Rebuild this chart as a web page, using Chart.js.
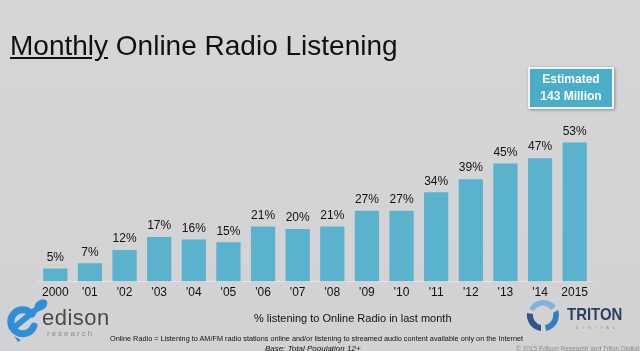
<!DOCTYPE html>
<html>
<head>
<meta charset="utf-8">
<script src="https://cdn.jsdelivr.net/npm/chart.js@4"></script>
<style>
    html, body { margin: 0; padding: 0; }
    body {
        width: 640px; height: 351px; overflow: hidden; position: relative;
        background: linear-gradient(#d6d6d8, #d2d2d4);
        font-family: 'Liberation Sans', Arial, sans-serif;
    }
    #chart { position: absolute; left: 0; top: 0; }
    .abs { position: absolute; white-space: nowrap; }
    .title { left: 10px; top: 30px; font-size: 28px; color: #111; }
    .callout {
        left: 528px; top: 67px; width: 82px; height: 36px;
        background: #4aaec8; border: 2px solid #f2f2f2;
        box-shadow: 1px 1px 3px rgba(0,0,0,0.35);
        color: #fff; font-weight: bold; font-size: 12px; line-height: 17px;
        text-align: center; padding-top: 2px;
    }
    .axis-title { left: 254px; top: 312px; font-size: 11px; color: #111; }
    .note { left: 110px; top: 334px; font-size: 7.3px; color: #111; }
    .base { left: 265px; top: 344px; font-size: 8px; font-style: italic; color: #111; }
    .copy { right: 1px; top: 345px; font-size: 6.5px; color: #8a8a8a; }
    .edison { left: 42px; top: 307px; font-size: 22px; line-height: 1; color: #4a4a4a; letter-spacing: 0.5px; }
    .research { left: 47px; top: 330px; font-size: 8px; line-height: 1; color: #8c8c8c; letter-spacing: 2px; }
    .triton { left: 567px; top: 306px; font-size: 17px; line-height: 1; font-weight: bold; color: #2b3f63; transform: scaleX(0.88); transform-origin: left; }
    .digital { left: 576px; top: 326px; font-size: 4px; line-height: 1; color: #8c8c8c; letter-spacing: 4px; }
</style>
</head>
<body>
<canvas id="chart" width="640" height="351"></canvas>

<div class="abs title"><u>Monthly</u> Online Radio Listening</div>
<div class="abs callout">Estimated<br>143 Million</div>

<svg class="abs" style="left:4px;top:296px" width="46" height="48" viewBox="0 0 46 48">
    <path d="M30 30 A12 12 0 1 1 28 18" fill="none" stroke="#2f8fd6" stroke-width="7" stroke-linecap="round"/>
    <path d="M12 30 L34 12" fill="none" stroke="#2f8fd6" stroke-width="6" stroke-linecap="round"/>
    <ellipse cx="37" cy="9" rx="7" ry="5" transform="rotate(-35 37 9)" fill="#2f8fd6"/>
    <path d="M10 40 L14 46 L17 44 Z" fill="#2f8fd6"/>
</svg>
<div class="abs edison">edison</div>
<div class="abs research">research</div>

<svg class="abs" style="left:526px;top:298px" width="34" height="34" viewBox="0 0 34 34">
    <path d="M3 11 A16 16 0 0 1 30 8 L25 12 A10 10 0 0 0 8 13 Z" fill="#7fb6d8"/>
    <path d="M32 12 A16 16 0 0 1 20 33 L19 27 A10 10 0 0 0 27 15 Z" fill="#2f7fc0"/>
    <path d="M15 33 A16 16 0 0 1 1 15 L7 16 A10 10 0 0 0 15 27 Z" fill="#34558c"/>
</svg>
<div class="abs triton">TRITON</div>
<div class="abs digital">DIGITAL</div>

<div class="abs axis-title">% listening to Online Radio in last month</div>
<div class="abs note">Online Radio = Listening to AM/FM radio stations online and/or listening to streamed audio content available only on the Internet</div>
<div class="abs base">Base: Total Population 12+</div>
<div class="abs copy">© 2015 Edison Research and Triton Digital</div>

<script>
const years = ['2000', "'01", "'02", "'03", "'04", "'05", "'06", "'07", "'08", "'09", "'10", "'11", "'12", "'13", "'14", '2015'];
const listening = [5, 7, 12, 17, 16, 15, 21, 20, 21, 27, 27, 34, 39, 45, 47, 53];

const barColor = '#5ab2cc';

// value labels above each bar
const valueLabels = {
    id: 'valueLabels',
    afterDatasetsDraw(chart) {
        const ctx = chart.ctx;
        const meta = chart.getDatasetMeta(0);
        ctx.save();
        ctx.font = '12px "Liberation Sans", Arial, sans-serif';
        ctx.fillStyle = '#111';
        ctx.textAlign = 'center';
        ctx.textBaseline = 'bottom';
        meta.data.forEach((bar, i) => {
            ctx.fillText(listening[i] + '%', bar.x, bar.y - 5);
        });
        ctx.restore();
    }
};

new Chart(document.getElementById('chart').getContext('2d'), {
    type: 'bar',
    data: {
        labels: years,
        datasets: [{
            data: listening,
            backgroundColor: barColor,
            borderWidth: 0,
            barPercentage: 0.7,
            categoryPercentage: 1
        }]
    },
    options: {
        responsive: false,
        animation: false,
        layout: { padding: { left: 38, right: 48, top: 19, bottom: 47 } },
        scales: {
            x: {
                grid: { display: false, drawTicks: false },
                border: { display: true, color: '#e6e6e8', width: 1 },
                ticks: {
                    padding: 4,
                    color: '#111',
                    font: { family: '"Liberation Sans", Arial, sans-serif', size: 12 }
                }
            },
            y: {
                display: false,
                min: 0,
                max: 100
            }
        },
        plugins: {
            legend: { display: false },
            tooltip: { enabled: false }
        }
    },
    plugins: [valueLabels]
});
</script>
</body>
</html>
